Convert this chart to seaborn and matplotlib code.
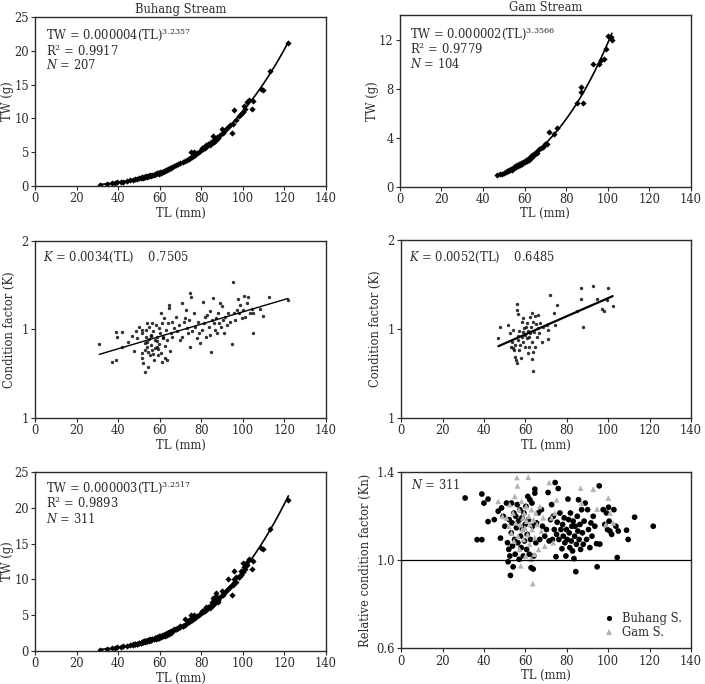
import numpy as np
import pandas as pd
import matplotlib
matplotlib.use("Agg")
import matplotlib.pyplot as plt
import seaborn as sns

# ---- Length-weight data (TL mm, TW g) ----
buhang_tl = [31.0, 34.5, 37.0, 38.5, 39.5, 41.5, 42.5, 44.0, 45.5, 47.0, 48.0, 49.0, 50.0, 51.0,
             51.5, 52.0, 52.5, 53.0, 53.5, 54.0, 54.5, 55.0, 55.5, 56.0, 56.5, 57.0, 57.5, 58.0,
             58.5, 59.0, 59.5, 60.0, 60.5, 61.0, 61.5, 62.0, 62.5, 63.0, 63.5, 64.0, 64.5, 65.0,
             65.5, 66.0, 67.0, 68.0, 69.0, 70.0, 71.0, 72.0, 73.0, 74.0, 74.5, 75.0, 75.5, 76.0,
             76.5, 77.0, 78.0, 79.0, 80.0, 80.5, 81.0, 81.5, 82.0, 82.5, 83.0, 83.5, 84.0, 84.5,
             85.0, 85.5, 85.5, 86.0, 86.5, 87.0, 87.5, 88.0, 89.0, 90.0, 90.5, 91.0, 92.0, 93.0,
             94.0, 95.0, 95.5, 96.0, 97.0, 98.0, 99.0, 100.0, 100.5, 101.0, 102.0, 103.0, 104.5,
             105.0, 109.0, 110.0, 113.0, 122.0]
buhang_tw = [0.22, 0.33, 0.42, 0.50, 0.55, 0.58, 0.66, 0.74, 0.83, 0.92, 0.97, 1.05, 1.12, 1.20,
             1.30, 1.25, 1.38, 1.32, 1.45, 1.40, 1.52, 1.48, 1.60, 1.55, 1.70, 1.65, 1.78, 1.72,
             1.86, 1.90, 1.84, 2.05, 1.98, 2.15, 2.10, 2.25, 2.18, 2.40, 2.32, 2.55, 2.45, 2.70,
             2.60, 2.85, 3.00, 3.05, 3.25, 3.35, 3.55, 3.70, 3.90, 4.05, 4.20, 5.05, 4.35, 4.50,
             5.00, 4.60, 4.85, 5.05, 5.30, 5.60, 5.45, 5.80, 5.65, 6.10, 5.90, 6.20, 6.05, 6.45,
             6.30, 6.70, 7.40, 6.55, 7.00, 6.85, 7.30, 7.10, 7.60, 8.40, 7.80, 8.10, 8.40, 8.70,
             9.00, 7.80, 9.20, 11.20, 9.70, 10.30, 10.60, 11.00, 11.80, 11.40, 12.40, 12.80, 11.40,
             12.60, 14.40, 14.20, 17.00, 21.10]

gam_tl = [47.0, 48.0, 49.0, 50.0, 51.0, 51.5, 52.0, 52.5, 53.0, 53.5, 54.0, 54.5, 55.0, 55.5,
          56.0, 56.5, 57.0, 57.5, 58.0, 58.5, 59.0, 59.5, 60.0, 60.5, 61.0, 61.5, 62.0, 62.5,
          63.0, 63.5, 64.0, 64.5, 65.0, 65.5, 66.0, 67.0, 68.0, 69.0, 70.0, 71.0, 72.0, 74.0,
          75.5, 85.0, 87.0, 87.0, 88.0, 93.0, 96.0, 97.0, 98.0, 99.0, 100.0, 101.5, 102.0]
gam_tw = [0.95, 1.05, 1.00, 1.15, 1.20, 1.30, 1.25, 1.40, 1.35, 1.45, 1.40, 1.55, 1.50, 1.65,
          1.60, 1.75, 1.70, 1.85, 1.80, 1.95, 1.85, 2.05, 2.00, 2.15, 2.10, 2.30, 2.20, 2.45,
          2.35, 2.60, 2.50, 2.70, 2.65, 2.85, 2.75, 3.05, 3.15, 3.25, 3.45, 3.50, 4.45, 4.30,
          4.80, 6.80, 8.10, 7.70, 6.85, 10.00, 10.00, 10.30, 10.40, 11.20, 12.30, 12.20, 12.00]

# ---- Condition factor K ----
buhang_k_tl = [30.8, 36.8, 38.7, 38.7, 41.9, 39.6, 42.0, 44.9, 46.8, 47.6, 48.4, 49.2, 50.0, 51.3,
               51.6, 51.6, 51.6, 52.1, 52.7, 52.9, 53.2, 53.7, 54.0, 54.0, 54.5, 54.8, 55.3, 55.6,
               55.6, 56.1, 56.4, 56.9, 57.2, 57.5, 58.0, 58.5, 58.8, 59.3, 59.6, 60.1, 60.4, 60.4,
               60.9, 61.2, 61.7, 62.0, 62.3, 62.8, 63.3, 63.6, 64.1, 64.4, 64.7, 64.9, 65.2, 65.7,
               66.0, 66.8, 67.6, 68.4, 69.2, 70.0, 70.8, 70.8, 71.6, 72.4, 72.9, 73.2, 73.7, 74.0,
               74.8, 74.8, 75.3, 75.6, 76.4, 77.2, 78.0, 78.3, 78.8, 79.6, 80.4, 80.9, 81.2, 82.0,
               82.5, 82.8, 83.6, 84.0, 84.4, 84.7, 85.2, 85.7, 86.0, 86.8, 87.2, 87.6, 87.9, 88.4,
               89.2, 89.5, 90.0, 90.5, 90.8, 91.6, 92.4, 93.1, 94.0, 94.8, 95.5, 95.9, 96.4, 97.2,
               97.9, 98.4, 98.8, 99.6, 100.3, 100.7, 101.2, 102.0, 102.7, 103.5, 104.4, 104.8,
               105.1, 108.3, 109.6, 112.8, 121.9,
               53.0, 54.2, 55.0, 56.8, 57.8, 58.9, 59.8, 61.5, 62.6, 53.5, 56.0, 59.0]
buhang_k = [0.918, 0.815, 0.826, 0.984, 0.986, 0.959, 0.903, 0.931, 0.963, 0.879, 0.988, 0.950,
            1.012, 0.997, 0.979, 0.866, 0.837, 0.809, 0.758, 0.884, 0.959, 0.931, 1.035, 0.903,
            0.790, 1.016, 0.856, 0.969, 0.912, 1.035, 0.884, 0.988, 0.828, 0.941, 1.025, 0.903,
            0.959, 0.856, 1.007, 0.979, 1.091, 0.866, 1.035, 0.818, 0.959, 1.063, 0.837, 0.997,
            0.828, 0.941, 1.035, 1.138, 1.120, 0.875, 0.979, 1.044, 0.959, 1.007, 1.072, 0.988,
            1.025, 0.941, 1.148, 0.959, 1.044, 1.063, 1.110, 1.007, 0.979, 1.054, 1.204, 0.903,
            1.185, 0.988, 1.091, 1.016, 0.950, 1.044, 0.979, 0.922, 0.997, 1.157, 1.035, 1.072,
            0.959, 1.082, 1.016, 0.969, 1.101, 0.871, 1.054, 1.176, 1.035, 0.997, 1.063, 0.979,
            1.095, 1.035, 1.148, 1.016, 1.129, 1.054, 0.979, 1.072, 1.025, 1.095, 1.044, 0.916,
            1.267, 1.091, 1.054, 1.110, 1.171, 1.091, 1.138, 1.063, 1.110, 1.189, 1.072, 1.148,
            1.185, 1.091, 1.114, 0.982, 1.095, 1.114, 1.076, 1.182, 1.163,
            0.925, 0.870, 0.945, 0.860, 0.895, 0.935, 0.915, 0.950, 0.905, 0.995, 0.960, 0.890]

gam_k_tl = [47.0, 47.8, 51.8, 52.6, 53.0, 53.4, 53.9, 54.2, 54.6, 55.0, 55.0, 55.5, 55.8, 55.8,
            56.2, 56.3, 56.7, 56.7, 57.1, 57.1, 57.5, 57.8, 58.3, 58.3, 58.8, 59.1, 59.1, 59.4,
            59.9, 59.9, 60.4, 60.7, 61.0, 61.2, 61.5, 62.0, 62.0, 62.3, 62.3, 62.6, 63.1, 63.1,
            63.1, 63.6, 63.9, 63.9, 64.4, 64.7, 64.7, 65.2, 65.5, 66.0, 66.3, 66.8, 67.1, 67.9,
            68.7, 70.4, 71.1, 71.9, 71.1, 73.9, 74.4, 75.2, 85.1, 86.9, 86.9, 88.0, 92.9, 94.8,
            97.2, 98.0, 99.3, 100.1, 102.2]
gam_k = [0.951, 1.013, 1.022, 0.979, 0.901, 0.929, 0.891, 0.994, 0.882, 0.910, 0.845, 0.826,
         1.139, 0.811, 1.107, 0.961, 1.083, 0.938, 0.990, 0.882, 0.910, 0.835, 1.041, 0.957,
         1.064, 0.985, 0.929, 1.004, 0.901, 0.966, 1.009, 0.948, 1.032, 0.863, 0.989, 0.957,
         0.897, 1.069, 0.976, 1.013, 1.092, 0.929, 0.830, 0.873, 0.766, 1.041, 0.985, 1.073,
         0.901, 1.028, 0.957, 1.079, 1.004, 0.979, 1.032, 0.929, 1.013, 1.022, 0.942, 1.191,
         0.994, 1.092, 1.022, 1.137, 1.103, 1.229, 1.167, 1.009, 1.242, 1.167, 1.111, 1.099,
         1.163, 1.229, 1.129]
k_ticks = [0.5, 1.0, 1.5]
k_ticklabels = ["1", "1", "2"]

# ---- Relative condition factor Kn ----
kn_buhang_tl = [30.9, 36.7, 39.0, 39.0, 40.0, 42.0, 42.0, 45.0, 46.9, 48.0, 48.5, 49.3, 50.1, 50.9,
                51.4, 51.7, 52.0, 52.2, 52.5, 52.8, 53.2, 53.3, 53.6, 53.8, 54.1, 54.5, 54.8, 55.1,
                55.4, 55.7, 56.1, 56.4, 56.7, 57.0, 57.4, 57.7, 58.0, 58.3, 58.6, 59.0, 59.3, 59.6,
                59.9, 60.3, 60.6, 60.9, 61.2, 61.5, 61.9, 62.2, 62.5, 62.8, 63.2, 63.5, 63.8, 64.1,
                64.6, 64.6, 65.1, 65.4, 66.2, 67.0, 67.8, 68.3, 69.4, 70.2, 71.0, 71.5, 72.2, 72.7,
                73.1, 73.5, 74.0, 74.4, 74.8, 75.1, 75.4, 75.9, 76.2, 76.7, 77.2, 77.7, 78.0, 78.3,
                78.8, 79.1, 79.6, 79.9, 80.2, 80.6, 80.9, 81.2, 81.5, 81.8, 82.2, 82.5, 82.8, 83.1,
                83.5, 83.8, 84.1, 84.4, 84.7, 85.1, 85.4, 85.7, 86.0, 86.4, 86.7, 87.2, 87.6, 88.0,
                88.4, 88.9, 89.6, 90.1, 90.5, 91.2, 91.7, 92.2, 92.8, 93.6, 94.4, 94.7, 95.7, 96.0,
                97.6, 98.4, 99.2, 99.7, 100.2, 100.5, 100.9, 101.7, 102.8, 103.8, 104.4, 104.9,
                108.9, 109.7, 112.8, 121.8]
kn_buhang = [1.282, 1.093, 1.093, 1.300, 1.259, 1.277, 1.175, 1.184, 1.222, 1.100, 1.237, 1.199,
             1.154, 1.259, 1.079, 0.993, 1.049, 1.184, 1.019, 0.931, 1.124, 1.259, 1.169, 1.064,
             0.970, 1.214, 1.094, 1.027, 1.199, 1.147, 1.252, 1.079, 1.177, 1.004, 1.229, 1.109,
             1.057, 1.192, 1.139, 1.019, 1.214, 1.087, 1.162, 1.244, 1.049, 1.117, 1.289, 1.184,
             1.027, 1.274, 1.094, 0.966, 1.259, 1.154, 0.960, 1.019, 1.322, 1.304, 1.079, 1.169,
             1.214, 1.094, 1.229, 1.154, 1.109, 1.139, 1.307, 1.087, 1.184, 1.252, 1.094, 1.199,
             1.139, 1.352, 1.016, 1.117, 1.172, 1.325, 1.094, 1.214, 1.139, 1.052, 1.162, 1.109,
             1.192, 1.079, 1.019, 1.139, 1.094, 1.277, 1.184, 1.124, 1.057, 1.214, 1.087, 1.154,
             1.042, 1.177, 1.007, 1.109, 1.154, 0.948, 1.072, 1.199, 1.132, 1.274, 1.094, 1.162,
             1.049, 1.229, 1.124, 1.072, 1.177, 1.259, 1.094, 1.229, 1.139, 1.057, 1.169, 1.109,
             1.199, 1.154, 1.075, 0.970, 1.337, 1.073, 1.229, 1.162, 1.214, 1.139, 1.240, 1.177,
             1.132, 1.117, 1.229, 1.154, 1.012, 1.132, 1.136, 1.094, 1.195, 1.154]
kn_gam_tl = [46.9, 49.0, 50.9, 52.0, 52.5, 53.3, 54.1, 54.5, 54.9, 55.4, 55.9, 56.2, 56.5, 56.9,
             57.2, 57.5, 57.8, 58.2, 58.5, 58.8, 59.1, 59.4, 59.8, 60.1, 60.4, 60.7, 61.1, 61.4,
             61.7, 62.0, 62.3, 62.7, 63.0, 63.3, 63.6, 64.0, 64.3, 64.6, 65.1, 65.7, 66.4, 67.0,
             67.8, 68.6, 69.4, 71.5, 72.7, 73.5, 74.3, 75.1, 86.7, 87.2, 92.8, 94.7, 100.1, 100.9,
             98.9, 102.5]
kn_gam = [1.267, 1.199, 1.192, 1.154, 1.252, 1.124, 1.214, 1.087, 1.289, 1.169, 1.375, 1.337,
          1.109, 1.229, 1.049, 1.162, 0.975, 1.267, 1.139, 1.192, 1.094, 1.214, 1.147, 1.019,
          1.244, 1.177, 1.117, 1.376, 1.199, 1.072, 1.162, 1.004, 1.229, 1.139, 0.894, 1.184,
          1.027, 1.102, 1.214, 1.162, 1.049, 1.244, 1.132, 1.192, 1.064, 1.352, 1.192, 1.079,
          1.214, 1.274, 1.327, 1.259, 1.322, 1.232, 1.282, 1.214, 1.162, 1.169]
kn_ticks = [0.6, 1.0, 1.4]

tl_ticks = [0, 20, 40, 60, 80, 100, 120, 140]

sns.set_style("ticks")
plt.rcParams["font.family"] = ["DejaVu Serif"]
plt.rcParams["mathtext.fontset"] = "dejavuserif"
fs = 8.3
plt.rcParams["font.size"] = fs
ink = "#2b2b2b"
plt.rcParams["text.color"] = ink
plt.rcParams["axes.labelcolor"] = ink
plt.rcParams["xtick.color"] = ink
plt.rcParams["ytick.color"] = ink
plt.rcParams["axes.edgecolor"] = ink

fig = plt.figure(figsize=(7.05, 6.84), dpi=100)
ax_tl = fig.add_axes([0.050, 0.728, 0.412, 0.247])
ax_tr = fig.add_axes([0.567, 0.727, 0.413, 0.251])
ax_ml = fig.add_axes([0.050, 0.389, 0.412, 0.259])
ax_mr = fig.add_axes([0.569, 0.389, 0.411, 0.260])
ax_bl = fig.add_axes([0.050, 0.048, 0.412, 0.262])
ax_br = fig.add_axes([0.569, 0.052, 0.411, 0.258])


def style(ax):
    ax.set_xlim(0, 140)
    ax.set_xticks(tl_ticks)
    ax.set_xlabel("TL (mm)", labelpad=1, fontsize=fs)
    ax.tick_params(direction="out", length=3, width=0.8, labelsize=fs, pad=1.5)
    for s in ax.spines.values():
        s.set_visible(True)
        s.set_linewidth(1.0)


def tw_panel(ax, tl, tw, ymax, yticks, lines, ys):
    tl = np.asarray(tl)
    tw = np.asarray(tw)
    sns.scatterplot(x=tl, y=tw, ax=ax, color="black", marker="D", s=10, linewidth=0)
    b, loga = np.polyfit(np.log(tl), np.log(tw), 1)
    xs = np.linspace(tl.min(), tl.max(), 200)
    sns.lineplot(x=xs, y=np.exp(loga) * xs ** b, ax=ax, color="black", lw=1.2)
    style(ax)
    ax.set_ylim(0, ymax)
    ax.set_yticks(yticks)
    ax.set_ylabel("TW (g)", labelpad=0, fontsize=fs)
    for txt, y in zip(lines, ys):
        ax.text(0.036, y, txt, transform=ax.transAxes, va="center", fontsize=fs)


tw_panel(ax_tl, buhang_tl, buhang_tw, 25, [0, 5, 10, 15, 20, 25],
         [r"TW = 0.000004(TL)$^{3.2357}$", r"R$^{2}$ = 0.9917", r"$N$ = 207"], [0.895, 0.80, 0.715])
ax_tl.set_title("Buhang Stream", fontsize=fs, pad=3)

tw_panel(ax_tr, gam_tl, gam_tw, 14, [0, 4, 8, 12],
         [r"TW = 0.000002(TL)$^{3.3566}$", r"R$^{2}$ = 0.9779", r"$N$ = 104"], [0.895, 0.80, 0.717])
ax_tr.set_title("Gam Stream", fontsize=fs, pad=3)

tw_panel(ax_bl, buhang_tl + gam_tl, buhang_tw + gam_tw, 25, [0, 5, 10, 15, 20, 25],
         [r"TW = 0.000003(TL)$^{3.2517}$", r"R$^{2}$ = 0.9893", r"$N$ = 311"], [0.915, 0.825, 0.74])


def k_panel(ax, tl, k, label, lw):
    sns.regplot(x=np.asarray(tl), y=np.asarray(k), ax=ax, ci=None, truncate=True,
                scatter_kws=dict(s=6, color="black", linewidths=0),
                line_kws=dict(color="black", lw=lw))
    style(ax)
    ax.set_ylim(0.5, 1.5)
    ax.set_yticks(k_ticks)
    ax.set_yticklabels(k_ticklabels)
    ax.set_ylabel("Condition factor (K)", labelpad=4, fontsize=fs)
    ax.text(0.027, 0.905, label, transform=ax.transAxes, va="center", fontsize=fs)


k_panel(ax_ml, buhang_k_tl, buhang_k, r"$K$ = 0.0034(TL)    0.7505", 1.0)
k_panel(ax_mr, gam_k_tl, gam_k, r"$K$ = 0.0052(TL)    0.6485", 1.6)

kn_df = pd.DataFrame({
    "TL": kn_buhang_tl + kn_gam_tl,
    "Kn": kn_buhang + kn_gam,
    "Stream": ["Buhang S."] * len(kn_buhang_tl) + ["Gam S."] * len(kn_gam_tl),
})
sns.scatterplot(data=kn_df, x="TL", y="Kn", hue="Stream", style="Stream", ax=ax_br,
                palette={"Buhang S.": "black", "Gam S.": "#b3b3b3"},
                markers={"Buhang S.": "o", "Gam S.": "^"}, s=17, linewidth=0)
ax_br.axhline(1.0, color="black", lw=0.9)
style(ax_br)
ax_br.set_ylim(0.6, 1.4)
ax_br.set_yticks(kn_ticks)
ax_br.set_yticklabels([f"{v:.1f}" for v in kn_ticks])
ax_br.set_ylabel("Relative condition factor (Kn)", labelpad=3, fontsize=fs)
ax_br.text(0.034, 0.925, r"$N$ = 311", transform=ax_br.transAxes, va="center", fontsize=fs)
ax_br.legend(loc="lower right", frameon=False, title=None, handletextpad=0.1,
             borderaxespad=0.4, labelspacing=0.1, fontsize=fs, markerscale=0.9)

fig.savefig("out.png", dpi=100)
